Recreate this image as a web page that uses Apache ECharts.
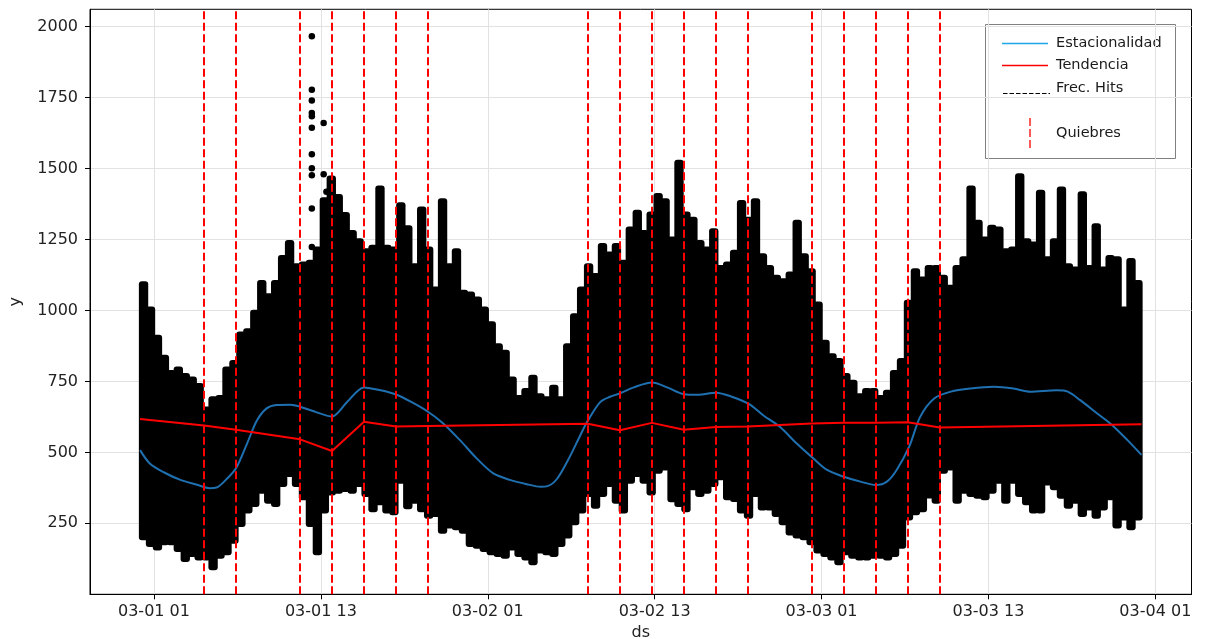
<!DOCTYPE html>
<html>
<head>
<meta charset="utf-8">
<script src="https://cdn.jsdelivr.net/npm/echarts@6/dist/echarts.min.js"></script>
<style>
  html, body { margin: 0; padding: 0; background: #fff; }
  #chart { width: 1206px; height: 639px; }
</style>
</head>
<body>
<div id="chart"></div>
<script>
// Hours are counted from 03-01 00:00.
const BIN_HOURS = 0.5;

// Upper and lower edge of the hit cloud, one value per half hour (00:00 .. 23:30, three days)
const cloudHigh = [
  1092, 1003, 904, 833, 780, 792, 769, 757, 734, 651,
  687, 692, 792, 815, 915, 927, 992, 1097, 1050, 1097,
  1185, 1238, 1156, 1162, 1168, 1215, 1388, 1465, 1400, 1336,
  1273, 1244, 1209, 1221, 1430, 1221, 1215, 1371, 1290, 1156,
  1356, 1215, 1074, 1385, 1156, 1209, 1062, 1056,
  1039, 1003, 951, 874, 851, 757, 692, 716, 763, 698,
  687, 728, 687, 874, 980, 1074, 1156, 1121, 1227, 1197,
  1227, 1168, 1285, 1344, 1273, 1338, 1403, 1385, 1250, 1520,
  1338, 1320, 1238, 1215, 1279, 1150, 1162, 1203, 1379, 1320,
  1385, 1191, 1150, 1115, 1103, 1127, 1309, 1191,
  1138, 1021, 886, 839, 822, 769, 745, 698, 716, 716,
  692, 710, 780, 822, 1027, 1138, 1109, 1150, 1150, 1115,
  1080, 1150, 1180, 1430, 1309, 1250, 1291, 1285, 1209, 1215,
  1473, 1244, 1232, 1415, 1180, 1244, 1426, 1156, 1144, 1409,
  1150, 1297, 1144, 1185, 1180, 1003, 1174, 1097
];
const cloudLow = [
  201, 177, 165, 183, 183, 160, 124, 142, 130, 130,
  95, 136, 148, 189, 248, 295, 318, 365, 330, 318,
  389, 424, 389, 342, 248, 148, 295, 359, 365, 371,
  365, 389, 353, 300, 324, 295, 289, 400, 310, 330,
  300, 277, 283, 224, 242, 236, 224, 177,
  171, 160, 148, 142, 136, 165, 142, 130, 113, 154,
  148, 142, 177, 207, 254, 295, 353, 312, 353, 389,
  330, 295, 400, 424, 400, 359, 435, 447, 335, 318,
  300, 377, 353, 365, 389, 412, 342, 336, 295, 277,
  353, 306, 306, 283, 254, 218, 207, 201,
  183, 154, 142, 130, 113, 148, 136, 130, 130, 136,
  136, 130, 142, 171, 271, 289, 300, 348, 330, 435,
  447, 330, 365, 353, 347, 342, 365, 400, 330, 400,
  353, 324, 295, 295, 394, 377, 347, 312, 330, 283,
  306, 277, 306, 342, 242, 271, 236, 271
];

// Isolated hits above the cloud around 03-01 13
const outlierHours  = [12.35, 12.35, 12.35, 12.35, 12.35, 12.35, 13.2, 12.35, 12.35, 12.35, 13.2, 12.35, 12.35, 13.4, 13.4];
const outlierValues = [1966, 1778, 1740, 1696, 1684, 1644, 1660, 1550, 1501, 1476, 1480, 1359, 1224, 1418, 1378];

// Trend (Tendencia), piecewise linear between break points
const trendHours  = [0, 4.6, 6.9, 11.5, 13.8, 16.1, 18.4, 20.7, 32.2, 34.5, 36.8, 39.1, 41.4, 43.7, 48.3, 50.6, 52.9, 55.2, 57.5, 72];
const trendValues = [618, 595, 580, 546, 505, 608, 591, 593, 601, 578, 604, 580, 589, 591, 602, 604, 604, 606, 588, 599];

// Seasonal curve (Estacionalidad)
const seasonHours = [
  0, 0.7, 1.7, 2.9, 4.1, 5.0, 5.5, 6.2, 6.9, 7.7, 8.4, 9.1, 9.8, 10.8, 11.5, 12.7, 13.8, 14.9, 16.1, 17.3,
  18.4, 19.6, 20.7, 21.8, 23.0, 24.2, 25.4, 26.6, 27.8, 28.8, 29.3, 30.0, 30.9, 31.6, 32.2, 33.1, 33.8, 34.5,
  35.5, 36.8, 37.9, 39.1, 40.1, 41.4, 42.5, 43.8, 44.8, 46.0, 47.2, 48.4, 49.4, 50.6, 51.8, 52.9, 53.7, 54.4,
  55.3, 56.1, 57.1, 58.3, 59.7, 61.4, 62.8, 64.0, 65.9, 66.7, 67.6, 68.8, 69.9, 71.0, 72.0
];
const seasonValues = [
  508, 461, 430, 403, 386, 374, 376, 405, 444, 532, 612, 655, 667, 668, 661, 641, 626, 678, 729, 719,
  704, 675, 643, 602, 543, 479, 426, 403, 388, 379, 381, 408, 485, 555, 612, 678, 696, 708,
  729, 746, 729, 705, 703, 710, 697, 670, 631, 590, 532, 479, 438, 414, 397, 385, 397, 438,
  520, 626, 690, 714, 725, 731, 725, 714, 719, 714, 684, 638, 596, 543, 491
];

// Break points (Quiebres)
const breakHours = [4.6, 6.9, 11.5, 13.8, 16.1, 18.4, 20.7, 32.2, 34.5, 36.8, 39.1, 41.4, 43.7, 48.3, 50.6, 52.9, 55.2, 57.5];

// Axis ticks
const xTickHours = [1, 13, 25, 37, 49, 61, 73];
const yTicks = [250, 500, 750, 1000, 1250, 1500, 1750, 2000];

const FONT = 'DejaVu Sans';
const pad2 = n => String(n).padStart(2, '0');
const hourLabel = h => '03-' + pad2(1 + Math.floor(h / 24)) + ' ' + pad2(h % 24);

const cloudData = cloudHigh.map((hi, i) => [i * BIN_HOURS, cloudLow[i], hi]);
const outlierData = outlierHours.map((h, i) => [h, outlierValues[i]]);
const trendData = trendHours.map((h, i) => [h, trendValues[i]]);
const seasonData = seasonHours.map((h, i) => [h, seasonValues[i]]);

const DOT_R = 3;

const chart = echarts.init(document.getElementById('chart'), null, { renderer: 'canvas' });

const legendX = 985, legendY = 24, legendW = 190, legendH = 134;

chart.setOption({
  animation: false,
  backgroundColor: '#fff',
  grid: {
    left: 90, right: 14.5, top: 9.3, bottom: 44.7,
    outerBoundsMode: 'none',
    containLabel: false,
    show: true, borderColor: '#000', borderWidth: 1, backgroundColor: 'transparent'
  },
  xAxis: {
    type: 'value',
    min: -3.6, max: 75.6,
    name: 'ds', nameLocation: 'middle', nameGap: 30,
    nameTextStyle: { fontFamily: FONT, fontSize: 16, color: '#222' },
    axisLine: { show: true, onZero: false, lineStyle: { color: '#000', width: 1 } },
    axisTick: { show: true, length: 5, lineStyle: { color: '#000' }, customValues: xTickHours },
    axisLabel: { fontFamily: FONT, fontSize: 16, color: '#222', margin: 10, customValues: xTickHours, formatter: v => hourLabel(v) },
    splitLine: { show: true, lineStyle: { color: '#e2e2e2', width: 1 } }
  },
  yAxis: {
    type: 'value',
    min: 0, max: 2061,
    name: 'y', nameLocation: 'middle', nameGap: 66, nameRotate: 90,
    nameTextStyle: { fontFamily: FONT, fontSize: 16, color: '#222' },
    axisLine: { show: true, onZero: false, lineStyle: { color: '#000', width: 1 } },
    axisTick: { show: true, length: 5, lineStyle: { color: '#000' }, customValues: yTicks },
    axisLabel: { fontFamily: FONT, fontSize: 16, color: '#222', margin: 12, customValues: yTicks, formatter: v => String(v) },
    splitLine: { show: true, lineStyle: { color: '#e2e2e2', width: 1 } }
  },
  series: [
    {
      name: 'Frec. Hits',
      type: 'custom',
      z: 2,
      data: cloudData,
      encode: { x: 0, y: [1, 2] },
      renderItem: (params, api) => {
        const h = api.value(0), lo = api.value(1), hi = api.value(2);
        const top = api.coord([h, hi]);
        const bot = api.coord([h + BIN_HOURS, lo]);
        return {
          type: 'rect',
          shape: {
            x: top[0] - 1.2,
            y: top[1] - DOT_R,
            width: bot[0] - top[0] + 2.4,
            height: bot[1] - top[1] + 2 * DOT_R,
            r: DOT_R
          },
          style: { fill: '#000' }
        };
      }
    },
    {
      name: 'Frec. Hits (aislados)',
      type: 'scatter',
      z: 2,
      symbol: 'circle',
      symbolSize: 6.5,
      itemStyle: { color: '#000', opacity: 1 },
      data: outlierData
    },
    {
      name: 'Estacionalidad',
      type: 'line',
      z: 3,
      smooth: 0.3,
      showSymbol: false,
      lineStyle: { color: '#1f70b0', width: 2 },
      data: seasonData
    },
    {
      name: 'Tendencia',
      type: 'line',
      z: 4,
      showSymbol: false,
      lineStyle: { color: '#ff0000', width: 2 },
      data: trendData,
      markLine: {
        silent: true,
        symbol: ['none', 'none'],
        label: { show: false },
        lineStyle: { color: '#ff0000', width: 2, type: [8, 3.5] },
        emphasis: { disabled: true },
        data: breakHours.map(h => ({ xAxis: h }))
      }
    }
  ],
  graphic: [
    {
      type: 'group', z: 100,
      children: [
        { type: 'rect', shape: { x: legendX + 0.5, y: legendY + 0.5, width: legendW, height: legendH }, style: { fill: '#fff', stroke: '#808080', lineWidth: 1 } },
        { type: 'line', shape: { x1: 1002, y1: 43.5, x2: 1048, y2: 43.5 }, style: { stroke: '#1fa6e8', lineWidth: 1.5 } },
        { type: 'text', x: 1056, y: 43.5, style: { text: 'Estacionalidad', fontFamily: FONT, fontSize: 14.5, fill: '#1a1a1a', verticalAlign: 'middle' } },
        { type: 'line', shape: { x1: 1002, y1: 65.5, x2: 1048, y2: 65.5 }, style: { stroke: '#ff0000', lineWidth: 1.5 } },
        { type: 'text', x: 1056, y: 65.5, style: { text: 'Tendencia', fontFamily: FONT, fontSize: 14.5, fill: '#1a1a1a', verticalAlign: 'middle' } },
        { type: 'line', shape: { x1: 1003, y1: 93.5, x2: 1050, y2: 93.5 }, style: { stroke: '#000', lineWidth: 1, lineDash: [4.5, 2] } },
        { type: 'text', x: 1056, y: 88, style: { text: 'Frec. Hits', fontFamily: FONT, fontSize: 14.5, fill: '#1a1a1a', verticalAlign: 'middle' } },
        { type: 'line', shape: { x1: 1030, y1: 118, x2: 1030, y2: 150 }, style: { stroke: '#ff0000', lineWidth: 1.3, lineDash: [8, 3] } },
        { type: 'text', x: 1056, y: 133, style: { text: 'Quiebres', fontFamily: FONT, fontSize: 14.5, fill: '#1a1a1a', verticalAlign: 'middle' } }
      ]
    }
  ]
});
</script>
</body>
</html>
